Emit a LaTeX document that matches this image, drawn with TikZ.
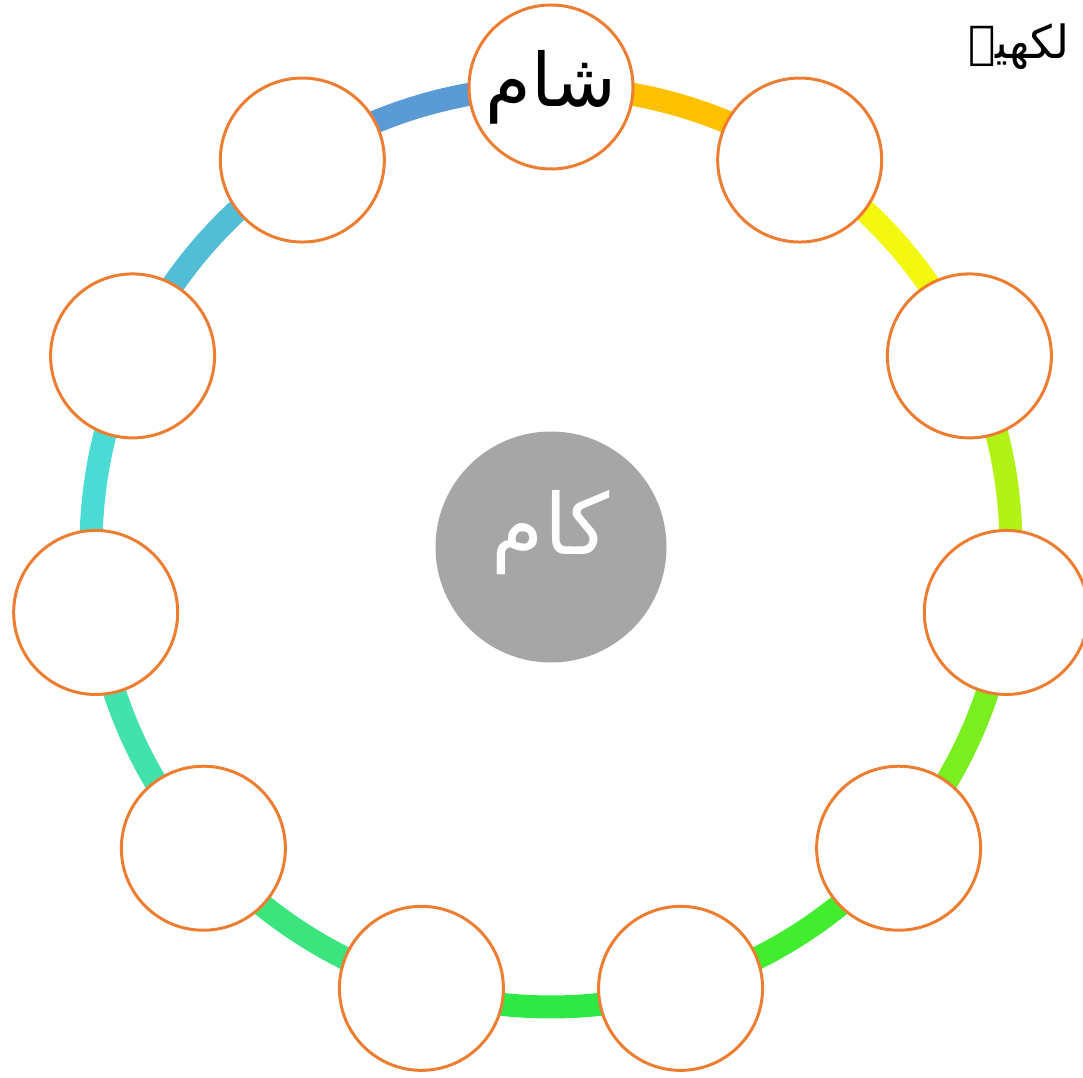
\documentclass[tikz,border=0pt]{standalone}
\usepackage{fontspec}
\usepackage{tikz}
\usetikzlibrary{positioning, calc}
\TeXXeTstate=1
\newfontfamily\urdufont[Script=Arabic]{DejaVu Sans}
\definecolor{ringedge}{RGB}{237,125,49}
\definecolor{hubgray}{RGB}{166,166,166}
\definecolor{segA}{RGB}{255,192,0}
\definecolor{segB}{RGB}{244,247,14}
\definecolor{segC}{RGB}{178,242,22}
\definecolor{segD}{RGB}{122,238,30}
\definecolor{segE}{RGB}{66,236,46}
\definecolor{segF}{RGB}{46,232,70}
\definecolor{segG}{RGB}{60,228,125}
\definecolor{segH}{RGB}{67,226,172}
\definecolor{segI}{RGB}{74,219,212}
\definecolor{segJ}{RGB}{82,190,214}
\definecolor{segK}{RGB}{91,155,213}

\begin{document}
\begin{tikzpicture}[
                wordbox/.style={circle, draw=ringedge, line width=0.85pt, fill=white, minimum size=1.64cm, inner sep=0pt},
                hub/.style={circle, fill=hubgray, minimum size=2.31cm, inner sep=0pt},
                seg/.style={line width=0.23cm},
            ]
                \useasboundingbox (-5.51,-5.30) rectangle (5.32,5.47);

                % points on the ring
                \foreach \i in {0,...,10}
                    \coordinate (p\i) at ({90-\i*360/11}:4.6);

                % coloured ring between the words
                \foreach \i/\col in {0/segA, 1/segB, 2/segC, 3/segD, 4/segE, 5/segF, 6/segG, 7/segH, 8/segI, 9/segJ, 10/segK}
                    \draw[seg, \col] (p\i) arc[start angle={90-\i*360/11}, end angle={90-(\i+1)*360/11}, radius=4.6];

                \node[hub, text=white, font=\urdufont\fontsize{24}{28}\selectfont] (kaam) at (0,0) {\raisebox{0.5cm}{\beginR کام\endR}};

                \node[wordbox, font=\urdufont\fontsize{21}{25}\selectfont] (w0) at (p0) {\beginR شام\endR};
                \foreach \i in {1,...,10}
                    \node[wordbox] (w\i) at (p\i) {};

                \node[anchor=east, font=\urdufont\fontsize{13}{15}\selectfont] (task) at (5.31,5.0) {\beginR لکھیے\endR};
            \end{tikzpicture}
\end{document}
